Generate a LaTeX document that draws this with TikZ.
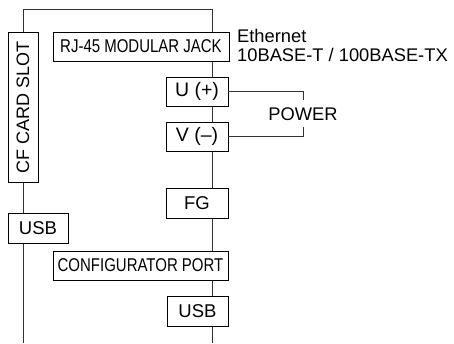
\documentclass[tikz,border=0pt]{standalone}
\usepackage{fontspec}
\setmainfont{Liberation Sans}
\newfontfamily\narrowfont[FakeStretch=0.81]{Liberation Sans}

\newcommand*{\xleft}{23}
\newcommand*{\xright}{212}
\newcommand*{\ytop}{9}
\newcommand*{\ybot}{343}

\begin{document}
\begin{tikzpicture}
[
	x=1pt,y=-1pt,
	wire/.style={line width=0.7pt,black!80},
	portbox/.style={draw,line width=0.7pt,fill=white,inner sep=0pt,font=\fontsize{18.5}{20}\selectfont},
	wideport/.style={portbox,font=\fontsize{18.5}{20}\selectfont\narrowfont},
	note/.style={inner sep=0pt,font=\fontsize{18.3}{20}\selectfont}
]
	\useasboundingbox (0,0) rectangle (454,343);

	% frame
	\draw[wire] (\xleft,\ybot) -- (\xleft,\ytop) -- (\xright,\ytop) -- (\xright,\ybot);

	% left side
	\node[portbox,rotate=90,minimum width=150,minimum height=30,font=\fontsize{18}{20}\selectfont] at (23,107) (cf) {CF CARD SLOT};
	\node[portbox,minimum width=60,minimum height=30] at (38,228) (usbl) {USB};

	% right side
	\node[wideport,minimum width=176,minimum height=29] at (141,46.5) (rj) {RJ-45 MODULAR JACK};
	\node[portbox,minimum width=62,minimum height=29,font=\fontsize{19.5}{20}\selectfont] at (197,91.5) (u) {U (+)};
	\node[portbox,minimum width=62,minimum height=29,font=\fontsize{19.5}{20}\selectfont] at (197,136.5) (v) {V (--)};
	\node[portbox,minimum width=62,minimum height=30] at (197,203) (fg) {FG};
	\node[wideport,minimum width=175,minimum height=29] at (140.5,265.5) (cfg) {CONFIGURATOR PORT};
	\node[portbox,minimum width=61,minimum height=30] at (197.5,311) (usbr) {USB};

	% labels
	\node[note,anchor=base west] at (237,42) (eth) {Ethernet};
	\node[note,anchor=base west] at (237,61) (ethstd) {10BASE-T / 100BASE-TX};
	\node[note] at (303,114) (pw) {POWER};
	\coordinate (pwtop) at (303,100);
	\coordinate (pwbot) at (303,127);

	\draw[wire] (u.east) -| (pwtop);
	\draw[wire] (v.east) -| (pwbot);

\end{tikzpicture}
\end{document}
